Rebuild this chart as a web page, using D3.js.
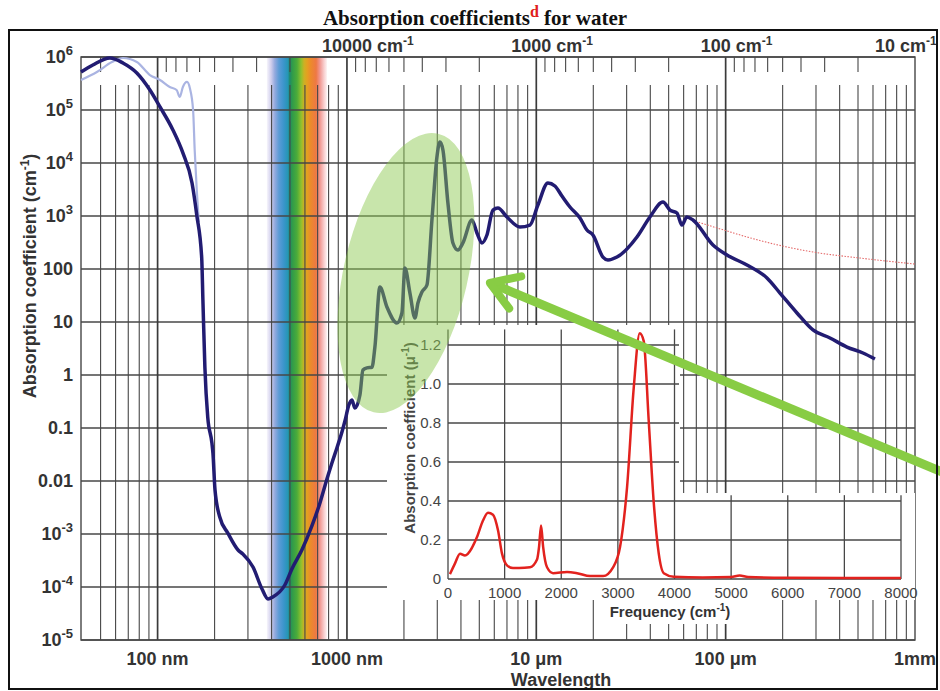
<!DOCTYPE html>
<html>
<head>
<meta charset="utf-8">
<script src="https://cdn.jsdelivr.net/npm/d3@7"></script>
<style>
  body { margin: 0; background: #fff; }
  text { font-family: 'Liberation Sans', Arial, sans-serif; }
  text.serif { font-family: 'Liberation Serif', 'Times New Roman', serif; }
</style>
</head>
<body>
<svg></svg>
<script>
// --- data (wavelength in nm, absorption coefficient in cm^-1) ---
const waterMain = [
  [39.4, 5.2e5], [45.5, 7.06e5], [56, 9.57e5], [65.6, 7.71e5], [77.7, 4.99e5], [91.1, 2.38e5],
  [103, 1.14e5], [120.5, 4.2e4], [136, 1.55e4], [152, 4200], [161, 1045], [171, 161], [173.5, 26],
  [177.7, 1.42], [184, 0.161], [193.6, 0.052], [196, 0.0337], [201, 0.00676], [213, 0.00209],
  [235, 0.00104], [266, 4.99e-4], [282, 4.2e-4], [319, 2.38e-4], [356, 9.16e-5], [383, 5.94e-5],
  [406, 6.48e-5], [470, 1.09e-4], [512, 2.19e-4], [578, 4.99e-4], [653, 1.42e-3], [720, 3.85e-3],
  [784, 0.0109], [833, 0.0219], [885, 0.042], [941, 0.0841], [976, 0.1355], [1024, 0.272],
  [1062, 0.337], [1102, 0.238], [1171, 0.42], [1215, 1.24], [1275, 1.36], [1355, 1.4], [1405, 3.37],
  [1493, 45.7], [1626, 19.2], [1836, 9.57], [1951, 14.8], [2024, 104], [2151, 35.2], [2286, 11.9],
  [2371, 22.8], [2489, 36.8], [2645, 49.9], [2811, 841], [2987, 1.3e4], [3097, 2.49e4], [3213, 1.76e4],
  [3414, 1758], [3628, 310], [3855, 228], [4097, 310], [4572, 841], [4859, 478], [5163, 310],
  [5487, 438], [5902, 1297], [6272, 1416], [6998, 957], [8197, 620], [9256, 676], [10200, 1614],
  [11520, 4198], [12540, 3683], [13660, 2382], [15060, 1479], [17010, 916], [18510, 544],
  [19910, 438], [22490, 168], [23890, 148], [26670, 168], [34010, 402], [39820, 957], [46660, 1837],
  [50800, 1297], [55310, 1140], [58770, 676], [62440, 957], [67190, 841], [85700, 284],
  [101600, 184], [129600, 119], [165300, 67.6], [193600, 35.2], [238100, 14.8], [289200, 7.07],
  [355600, 4.99], [437400, 3.37], [531300, 2.6], [614600, 2.0]
]

const waterUvAlt = [
  [39.4, 3.68e5], [47.8, 5.21e5], [57.4, 8.05e5], [65.6, 9.57e5], [77.7, 8.05e5], [91.1, 4.57e5],
  [103, 3.68e5], [116, 2.72e5], [126, 2.38e5], [131, 1.76e5], [136, 2.72e5], [143, 3.38e5],
  [148, 2.6e5], [154, 1.0e5], [157, 1.76e4], [161, 3100], [165, 771]
]

const waterFarIr = [
  [72000, 760], [100000, 531], [129600, 402], [289200, 209], [512000, 161], [1000000, 124]
]

// inset: frequency (cm^-1) vs absorption coefficient (µ^-1)
const insetSpectrum = [
  [35, 0.025], [124, 0.08], [212, 0.13], [300, 0.12], [353, 0.13], [512, 0.215], [618, 0.30],
  [707, 0.34], [795, 0.33], [883, 0.25], [954, 0.13], [1042, 0.07], [1148, 0.056], [1254, 0.056],
  [1449, 0.06], [1572, 0.10], [1608, 0.165], [1643, 0.275], [1680, 0.165], [1749, 0.06],
  [1855, 0.03], [2102, 0.036], [2279, 0.03], [2509, 0.015], [2739, 0.015], [2915, 0.06],
  [3039, 0.165], [3162, 0.47], [3280, 0.98], [3386, 1.26], [3457, 1.22], [3545, 0.81],
  [3634, 0.39], [3722, 0.13], [3810, 0.03], [3987, 0.012], [4500, 0.008], [5000, 0.01],
  [5150, 0.018], [5300, 0.01], [6000, 0.006], [7000, 0.005], [8000, 0.005]
]

// ticks and labels
const yTicks = [1e-5, 1e-4, 1e-3, 0.01, 0.1, 1, 10, 100, 1e3, 1e4, 1e5, 1e6]
const wavelengthLabels = [
  { v: 100, t: '100 nm' }, { v: 1000, t: '1000 nm' }, { v: 1e4, t: '10 μm' },
  { v: 1e5, t: '100 μm' }, { v: 1e6, t: '1mm' }
]
const wavenumberLabels = [10000, 1000, 100, 10]
const insetXTicks = [0, 1000, 2000, 3000, 4000, 5000, 6000, 7000, 8000]
const insetYTicks = [0, 0.2, 0.4, 0.6, 0.8, 1.0, 1.2]

// visible band, nm
const visibleBand = [378, 784]

// annotation anchors (data coords)
const highlight = { wl: 2048, a: 84 }
const arrowTip = { wl: 5689, a: 54.5 }

// --- chart ---
const w = 940
const h = 691
const pLeft = 81
const pRight = 915
const pTop = 57
const pBottom = 640

const svg = d3.select('svg')
  .attr('width', w)
  .attr('height', h)

const x = d3.scaleLog().domain([39.4, 1e6]).range([pLeft, pRight])
const y = d3.scaleLog().domain([1e-5, 1e6]).range([pBottom, pTop])

// spectrum band
const defs = svg.append('defs')
const grad = defs.append('linearGradient')
  .attr('id', 'vis')
  .attr('gradientUnits', 'userSpaceOnUse')
  .attr('x1', x(visibleBand[0])).attr('x2', x(visibleBand[1]))
  .attr('y1', 0).attr('y2', 0)
const stops = [
  [0, '#f6f4fb'], [0.07, '#cfcdec'], [0.13, '#95aade'], [0.2, '#5c9bd6'], [0.28, '#3b95cc'],
  [0.35, '#2596b4'], [0.38, '#1e8a6a'], [0.42, '#2f9a4a'], [0.5, '#4bab3a'], [0.57, '#8fc02e'],
  [0.62, '#cdb024'], [0.67, '#e4a020'], [0.73, '#ec8a2c'], [0.82, '#ee7844'], [0.88, '#f0958e'],
  [0.95, '#f8cdcd'], [1, '#fdf2f2']
]
grad.selectAll('stop').data(stops).enter().append('stop')
  .attr('offset', d => d[0]).attr('stop-color', d => d[1])

svg.append('rect')
  .attr('x', x(visibleBand[0]))
  .attr('y', pTop)
  .attr('width', x(visibleBand[1]) - x(visibleBand[0]))
  .attr('height', pBottom - pTop)
  .attr('fill', 'url(#vis)')

// grid
const grid = svg.append('g').attr('stroke', '#474747').attr('fill', 'none')

grid.selectAll('.hline')
  .data(yTicks)
  .enter().append('line')
  .attr('x1', pLeft).attr('x2', pRight)
  .attr('y1', d => y(d)).attr('y2', d => y(d))
  .attr('stroke-width', 1.3)

const wlMinor = []
for (let k = 1; k <= 5; k++) {
  for (let m = 2; m <= 9; m++) {
    const v = m * Math.pow(10, k)
    if (v > 40 && v < 1e6) wlMinor.push(v)
  }
}
grid.selectAll('.wlminor')
  .data(wlMinor)
  .enter().append('line')
  .attr('x1', d => x(d)).attr('x2', d => x(d))
  .attr('y1', 85).attr('y2', pBottom)
  .attr('stroke-width', 1.1)

const wnMinor = [2e5]
for (let k = 1; k <= 4; k++) {
  for (let m = 2; m <= 9; m++) wnMinor.push(m * Math.pow(10, k))
}
grid.selectAll('.wnminor')
  .data(wnMinor.map(d => 1e7 / d).filter(d => d > 40 && d < 1e6))
  .enter().append('line')
  .attr('x1', d => x(d)).attr('x2', d => x(d))
  .attr('y1', pTop).attr('y2', 72)
  .attr('stroke-width', 1.1)

grid.selectAll('.major')
  .data([100, 1000, 1e4, 1e5])
  .enter().append('line')
  .attr('x1', d => x(d)).attr('x2', d => x(d))
  .attr('y1', pTop).attr('y2', pBottom)
  .attr('stroke-width', 1.7)
  .attr('stroke', '#3a3a3a')

grid.append('rect')
  .attr('x', pLeft).attr('y', pTop)
  .attr('width', pRight - pLeft).attr('height', pBottom - pTop)
  .attr('stroke-width', 1.4)

// curves
const line = d3.line()
  .x(d => x(d[0]))
  .y(d => y(d[1]))
  .curve(d3.curveMonotoneX)

svg.append('path')
  .datum(waterUvAlt)
  .attr('d', line)
  .attr('fill', 'none')
  .attr('stroke', '#aab4e2')
  .attr('stroke-width', 2.2)

svg.append('path')
  .datum(waterFarIr)
  .attr('d', line)
  .attr('fill', 'none')
  .attr('stroke', '#e46a6a')
  .attr('stroke-width', 1.1)
  .attr('stroke-dasharray', '1.5,1.5')

svg.append('path')
  .datum(waterMain)
  .attr('d', line)
  .attr('fill', 'none')
  .attr('stroke', '#221c72')
  .attr('stroke-width', 3.5)
  .attr('stroke-linejoin', 'round')

// inset
const ix = d3.scaleLinear().domain([0, 8000]).range([448, 901])
const iy = d3.scaleLinear().domain([0, 1.2]).range([579, 345])

const inset = svg.append('g')
inset.append('path')
  .attr('d', `M387,325H680V493H${pRight}V600H387Z`)
  .attr('fill', '#fff')
inset.append('rect')
  .attr('x', 600).attr('y', 598).attr('width', 165).attr('height', 26)
  .attr('fill', '#fff')

const ig = inset.append('g').attr('stroke', '#474747').attr('stroke-width', 1.3)
ig.selectAll('.ih')
  .data(insetYTicks)
  .enter().append('line')
  .attr('x1', ix(0))
  .attr('x2', d => d <= 0.4 ? ix(8000) : ix(4080))
  .attr('y1', d => iy(d)).attr('y2', d => iy(d))
ig.selectAll('.iv')
  .data(insetXTicks)
  .enter().append('line')
  .attr('x1', d => ix(d)).attr('x2', d => ix(d))
  .attr('y1', iy(0))
  .attr('y2', d => d <= 4000 ? iy(1.28) : iy(0.43))

inset.append('path')
  .datum(insetSpectrum)
  .attr('d', d3.line().x(d => ix(d[0])).y(d => iy(d[1])).curve(d3.curveMonotoneX))
  .attr('fill', 'none')
  .attr('stroke', '#e2221e')
  .attr('stroke-width', 2.5)

inset.selectAll('.iyl')
  .data(insetYTicks)
  .enter().append('text')
  .attr('x', 441)
  .attr('y', d => iy(d))
  .attr('dy', '0.36em')
  .attr('text-anchor', 'end')
  .attr('font-size', 15)
  .attr('fill', '#444')
  .text(d => d === 0 ? '0' : d.toFixed(1))

inset.selectAll('.ixl')
  .data(insetXTicks)
  .enter().append('text')
  .attr('x', d => ix(d))
  .attr('y', 598)
  .attr('text-anchor', 'middle')
  .attr('font-size', 15)
  .attr('fill', '#444')
  .text(d => d)

const iyt = inset.append('text')
  .attr('transform', 'translate(415, 438) rotate(-90)')
  .attr('text-anchor', 'middle')
  .attr('font-size', 15)
  .attr('font-weight', 'bold')
  .attr('fill', '#444')
iyt.append('tspan').text('Absorption coefficient (μ')
iyt.append('tspan').attr('dy', -6).attr('font-size', 10).text('-1')
iyt.append('tspan').attr('dy', 6).text(')')

const ixt = inset.append('text')
  .attr('x', 670)
  .attr('y', 617)
  .attr('text-anchor', 'middle')
  .attr('font-size', 15)
  .attr('font-weight', 'bold')
  .attr('fill', '#333')
ixt.append('tspan').text('Frequency (cm')
ixt.append('tspan').attr('dy', -6).attr('font-size', 10).text('-1')
ixt.append('tspan').attr('dy', 6).text(')')

// highlight ellipse
svg.append('ellipse')
  .attr('transform', `translate(${x(highlight.wl)}, ${y(highlight.a)}) rotate(13)`)
  .attr('rx', 62)
  .attr('ry', 143)
  .attr('fill', '#8cc850')
  .attr('opacity', 0.48)

// arrow
const tx = x(arrowTip.wl)
const ty = y(arrowTip.a)
const ang = 22.7 * Math.PI / 180
svg.append('line')
  .attr('x1', tx + 3).attr('y1', ty + 1)
  .attr('x2', tx + 500 * Math.cos(ang)).attr('y2', ty + 500 * Math.sin(ang))
  .attr('stroke', '#88cc44')
  .attr('stroke-width', 9)
const a1 = -12 * Math.PI / 180
const a2 = 53 * Math.PI / 180
svg.append('path')
  .attr('d', `M${tx + 32 * Math.cos(a1)},${ty + 32 * Math.sin(a1)}L${tx},${ty}L${tx + 32 * Math.cos(a2)},${ty + 32 * Math.sin(a2)}`)
  .attr('fill', 'none')
  .attr('stroke', '#88cc44')
  .attr('stroke-width', 8)
  .attr('stroke-linecap', 'round')
  .attr('stroke-linejoin', 'round')

// y tick labels
const supExp = { 1e6: '6', 1e5: '5', 1e4: '4', 1e3: '3', 1e-3: '-3', 1e-4: '-4', 1e-5: '-5' }
const plain = { 100: '100', 10: '10', 1: '1', 0.1: '0.1', 0.01: '0.01' }
yTicks.forEach(v => {
  const t = svg.append('text')
    .attr('x', 73)
    .attr('y', y(v) + 6)
    .attr('text-anchor', 'end')
    .attr('font-size', 18)
    .attr('font-weight', 'bold')
    .attr('fill', '#333')
  if (plain[v] !== undefined) {
    t.text(plain[v])
  } else {
    t.append('tspan').text('10')
    t.append('tspan').attr('dy', -8).attr('font-size', 13).text(supExp[v])
  }
})

// y axis title
const yt = svg.append('text')
  .attr('transform', 'translate(36, 276) rotate(-90)')
  .attr('text-anchor', 'middle')
  .attr('font-size', 18)
  .attr('font-weight', 'bold')
  .attr('fill', '#333')
yt.append('tspan').text('Absorption coefficient (cm')
yt.append('tspan').attr('dy', -7).attr('font-size', 12).text('-1')
yt.append('tspan').attr('dy', 7).text(')')

// bottom labels
svg.selectAll('.wll')
  .data(wavelengthLabels)
  .enter().append('text')
  .attr('x', d => x(d.v))
  .attr('y', 665)
  .attr('text-anchor', 'middle')
  .attr('font-size', 18)
  .attr('font-weight', 'bold')
  .attr('fill', '#333')
  .text(d => d.t)

svg.append('text')
  .attr('x', 561)
  .attr('y', 686)
  .attr('text-anchor', 'middle')
  .attr('font-size', 18)
  .attr('font-weight', 'bold')
  .attr('fill', '#333')
  .text('Wavelength')

// top labels
wavenumberLabels.forEach(v => {
  const t = svg.append('text')
    .attr('x', Math.min(x(1e7 / v) - 25, 875))
    .attr('y', 52)
    .attr('font-size', 18)
    .attr('font-weight', 'bold')
    .attr('fill', '#333')
  t.append('tspan').text(v + ' cm')
  t.append('tspan').attr('dy', -7).attr('font-size', 12).text('-1')
})

// title
const title = svg.append('text')
  .attr('class', 'serif')
  .attr('x', 475)
  .attr('y', 25)
  .attr('text-anchor', 'middle')
  .attr('font-size', 21)
  .attr('font-weight', 'bold')
  .attr('fill', '#111')
title.append('tspan').text('Absorption coefficients')
title.append('tspan').attr('dy', -8).attr('font-size', 16).attr('fill', '#e0201c').text('d')
title.append('tspan').attr('dy', 8).text(' for water')

// outer frame
svg.append('rect')
  .attr('x', 9).attr('y', 30)
  .attr('width', 928).attr('height', 659)
  .attr('fill', 'none')
  .attr('stroke', '#111')
  .attr('stroke-width', 2)
</script>
</body>
</html>
